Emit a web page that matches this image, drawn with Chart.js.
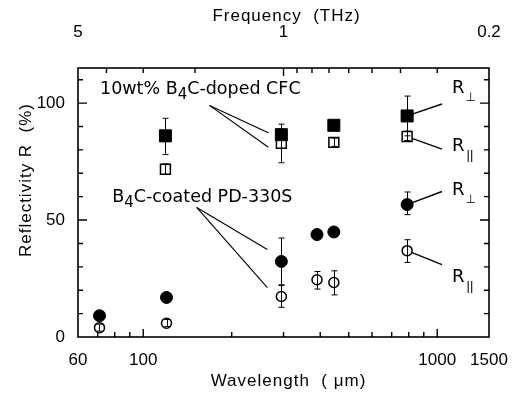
<!DOCTYPE html>
<html><head><meta charset="utf-8">
<script src="https://cdn.jsdelivr.net/npm/chart.js@4.4.1/dist/chart.umd.min.js"></script>
<style>html,body{margin:0;padding:0;background:#fff}canvas{display:block}</style>
</head><body>
<canvas id="c" width="516" height="393"></canvas>
<script>
// ---- data ----
const wavelengthsCFC = [119, 295, 445, 790];          // µm
const cfcPerp = [86, 86.5, 90.5, 94.5];               // R⊥ (%), filled squares
const cfcPar  = [71.7, 82.8, 83.2, 85.7];             // R∥ (%), open squares
const cfcPerpErr = [[78, 93.5], null, null, [86, 103]];
const cfcParErr  = [[69.5, 74], [74.5, 91], [81.5, 85], [84, 88]];

const wavelengthsPD = [71, 120, 295, 390, 445, 790];  // µm
const pdPerp = [9.1, 16.9, 32.3, 43.8, 44.9, 56.6];   // R⊥ (%), filled circles
const pdPar  = [4, 5.9, 17.3, 24.5, 23.3, 36.9];      // R∥ (%), open circles
const pdPerpErr = [null, null, [22.3, 42.3], null, null, [52.3, 62]];
const pdParErr  = [[2.5, 5.5], [4.5, 7.5], [12.7, 22], [20.5, 28], [18, 28.3], [31.9, 41.6]];

const wavelengthTicks = [60, 100, 1000, 1500];
const wavelengthMinor = [70, 80, 90, 200, 300, 400, 500, 600, 700, 800, 900];
const frequencyTicks = [5, 1, 0.2];                   // THz
const frequencyMajorMarks = [1];
const frequencyMinor = [4, 3, 2, 0.9, 0.8, 0.7, 0.6, 0.5, 0.4, 0.3];
const reflectivityTicks = [0, 50, 100];
const reflectivityMinor = [10, 20, 30, 40, 60, 70, 80, 90, 110];

const C_UM_THZ = 300; // λ(µm) = 300 / f(THz)

// ---- annotations (anchored in data space) ----
const groupLabels = [
  {parts: ['10wt% B', '4', 'C-doped CFC'], at: [71.3, 103.7], from: [168, 99],
   to: [[295, 86.5, -13, -2], [295, 82.8, -13, 4]]},
  {parts: ['B', '4', 'C-coated PD-330S'], at: [78.4, 57.9], from: [152, 55.4],
   to: [[295, 32.3, -14, -12], [295, 17.3, -14, -9]]}
];
const sideLabels = [
  {sub: '\u22A5', from: [790, 94.5], to: [1038, 99.6], text: [1123, 104.3]},
  {sub: '||', from: [790, 85.7], to: [1038, 80.3], text: [1123, 79.4]},
  {sub: '\u22A5', from: [790, 56.6], to: [1038, 62.2], text: [1123, 60.9]},
  {sub: '||', from: [790, 36.9], to: [1038, 30.9], text: [1123, 23.6]}
];

const FONT = '"Liberation Sans", Arial, sans-serif';
const ANN = '"DejaVu Sans", "Open Sans", sans-serif';

function pts(xs, ys) { return xs.map((x, i) => ({x: x, y: ys[i]})); }

const deco = {
  id: 'deco',
  beforeDatasetsDraw(chart) {
    const {ctx, scales: {x, y}} = chart;
    ctx.save();
    ctx.strokeStyle = '#000'; ctx.lineWidth = 1.1;
    groupLabels.forEach(g => {
      const sx = x.getPixelForValue(g.from[0]), sy = y.getPixelForValue(g.from[1]);
      g.to.forEach(t => {
        ctx.beginPath(); ctx.moveTo(sx, sy);
        ctx.lineTo(x.getPixelForValue(t[0]) + t[2], y.getPixelForValue(t[1]) + t[3]);
        ctx.stroke();
      });
    });
    ctx.lineWidth = 1.4;
    sideLabels.forEach(s => {
      ctx.beginPath();
      ctx.moveTo(x.getPixelForValue(s.from[0]), y.getPixelForValue(s.from[1]));
      ctx.lineTo(x.getPixelForValue(s.to[0]), y.getPixelForValue(s.to[1]));
      ctx.stroke();
    });
    ctx.restore();
  },
  afterDatasetsDraw(chart) {
    const {ctx, chartArea: a, scales: {x, y}} = chart;
    ctx.save();
    ctx.strokeStyle = '#000'; ctx.fillStyle = '#000';
    // error bars
    ctx.lineWidth = 1;
    const bars = (xs, errs) => errs.forEach((e, i) => {
      if (!e) return;
      const px = Math.round(x.getPixelForValue(xs[i])) + 0.5;
      const y1 = y.getPixelForValue(e[0]), y2 = y.getPixelForValue(e[1]);
      ctx.beginPath();
      ctx.moveTo(px, y1); ctx.lineTo(px, y2);
      ctx.moveTo(px - 3, y1); ctx.lineTo(px + 3, y1);
      ctx.moveTo(px - 3, y2); ctx.lineTo(px + 3, y2);
      ctx.stroke();
    });
    bars(wavelengthsCFC, cfcPerpErr); bars(wavelengthsCFC, cfcParErr);
    bars(wavelengthsPD, pdPerpErr); bars(wavelengthsPD, pdParErr);

    // frame
    ctx.lineWidth = 1.6;
    ctx.strokeRect(a.left, a.top, a.right - a.left, a.bottom - a.top);
    // tick marks (inward)
    ctx.lineWidth = 1.4;
    ctx.beginPath();
    const vx = (v, len, top) => {
      const px = x.getPixelForValue(v);
      if (top) { ctx.moveTo(px, a.top); ctx.lineTo(px, a.top + len); }
      else { ctx.moveTo(px, a.bottom); ctx.lineTo(px, a.bottom - len); }
    };
    [100, 1000].forEach(v => vx(v, 8, false));
    wavelengthMinor.forEach(v => vx(v, 5, false));
    frequencyMajorMarks.forEach(f => vx(C_UM_THZ / f, 8, true));
    frequencyMinor.forEach(f => vx(C_UM_THZ / f, 5, true));
    const hy = (v, len) => {
      const py = y.getPixelForValue(v);
      ctx.moveTo(a.left, py); ctx.lineTo(a.left + len, py);
      ctx.moveTo(a.right, py); ctx.lineTo(a.right - len, py);
    };
    [50, 100].forEach(v => hy(v, 9));
    reflectivityMinor.forEach(v => hy(v, 5));
    ctx.stroke();

    // group labels
    ctx.textBaseline = 'alphabetic'; ctx.textAlign = 'left';
    groupLabels.forEach(g => {
      let px = x.getPixelForValue(g.at[0]); const py = y.getPixelForValue(g.at[1]);
      ctx.font = '17.5px ' + ANN; ctx.fillText(g.parts[0], px, py); px += ctx.measureText(g.parts[0]).width;
      ctx.font = '15px ' + ANN; ctx.fillText(g.parts[1], px, py + 5); px += ctx.measureText(g.parts[1]).width;
      ctx.font = '17.5px ' + ANN; ctx.fillText(g.parts[2], px, py);
    });
    // side labels R⊥ / R∥
    sideLabels.forEach(s => {
      const px = x.getPixelForValue(s.text[0]), py = y.getPixelForValue(s.text[1]);
      ctx.font = '18px ' + ANN; ctx.fillText('R', px, py);
      const w = ctx.measureText('R').width;
      if (s.sub === '||') {
        ctx.font = '13px ' + FONT;
        ctx.fillText(s.sub, px + w + 2, py + 8);
      } else {
        ctx.font = '12px "DejaVu Sans", sans-serif';
        ctx.fillText(s.sub, px + w + 1, py + 8);
      }
    });

    // axis titles
    ctx.font = '17px ' + FONT;
    ctx.letterSpacing = '1px';
    ctx.textAlign = 'center';
    const cx = (a.left + a.right) / 2;
    ctx.fillText('Frequency  (THz)', cx + 3, a.top - 47);
    ctx.fillText('Wavelength  ( \u03BCm)', cx + 5, a.bottom + 49);
    ctx.save();
    ctx.translate(26, a.top + 112);
    ctx.rotate(-Math.PI / 2);
    ctx.textBaseline = 'middle';
    ctx.fillText('Reflectivity R  (%)', 0, 0);
    ctx.restore();
    ctx.restore();
  }
};

const noPad = s => { s.paddingLeft = 0; s.paddingRight = 0; };

new Chart(document.getElementById('c'), {
  type: 'scatter',
  data: {
    datasets: [
      {label: 'CFC R⊥', data: pts(wavelengthsCFC, cfcPerp), pointStyle: 'rect', pointRadius: 8.5,
       backgroundColor: '#000', borderColor: '#000', borderWidth: 1},
      {label: 'CFC R∥', data: pts(wavelengthsCFC, cfcPar), pointStyle: 'rect', pointRadius: 7,
       backgroundColor: '#fff', borderColor: '#000', borderWidth: 1.5},
      {label: 'PD R⊥', data: pts(wavelengthsPD, pdPerp), pointStyle: 'circle', pointRadius: 6,
       backgroundColor: '#000', borderColor: '#000', borderWidth: 1},
      {label: 'PD R∥', data: pts(wavelengthsPD, pdPar), pointStyle: 'circle', pointRadius: 5,
       backgroundColor: '#fff', borderColor: '#000', borderWidth: 1.5}
    ]
  },
  options: {
    responsive: false, animation: false, devicePixelRatio: 1,
    layout: {padding: {left: 0, right: 27, top: 0, bottom: 0}},
    plugins: {legend: {display: false}, tooltip: {enabled: false}},
    scales: {
      x: {
        type: 'logarithmic', position: 'bottom', min: 60, max: 1500,
        grid: {display: false, drawTicks: false}, border: {display: false},
        afterBuildTicks: s => { s.ticks = wavelengthTicks.map(v => ({value: v})); },
        afterFit: s => { s.height = 56; noPad(s); },
        ticks: {autoSkip: false, maxRotation: 0, padding: 13, color: '#000',
                font: {family: FONT, size: 17}, callback: v => String(v)}
      },
      x2: {
        type: 'logarithmic', position: 'top', min: 60, max: 1500,
        grid: {display: false, drawTicks: false}, border: {display: false},
        afterBuildTicks: s => { s.ticks = frequencyTicks.map(f => ({value: C_UM_THZ / f})); },
        afterFit: s => { s.height = 68; noPad(s); },
        ticks: {autoSkip: false, maxRotation: 0, padding: 25, color: '#000',
                font: {family: FONT, size: 17}, callback: (v, i) => String(frequencyTicks[i])}
      },
      y: {
        type: 'linear', min: 0, max: 115,
        grid: {display: false, drawTicks: false}, border: {display: false},
        afterBuildTicks: s => { s.ticks = reflectivityTicks.map(v => ({value: v})); },
        afterFit: s => { s.width = 78; },
        ticks: {padding: 13, color: '#000', font: {family: FONT, size: 17}}
      }
    }
  },
  plugins: [deco]
});
</script>
</body></html>
